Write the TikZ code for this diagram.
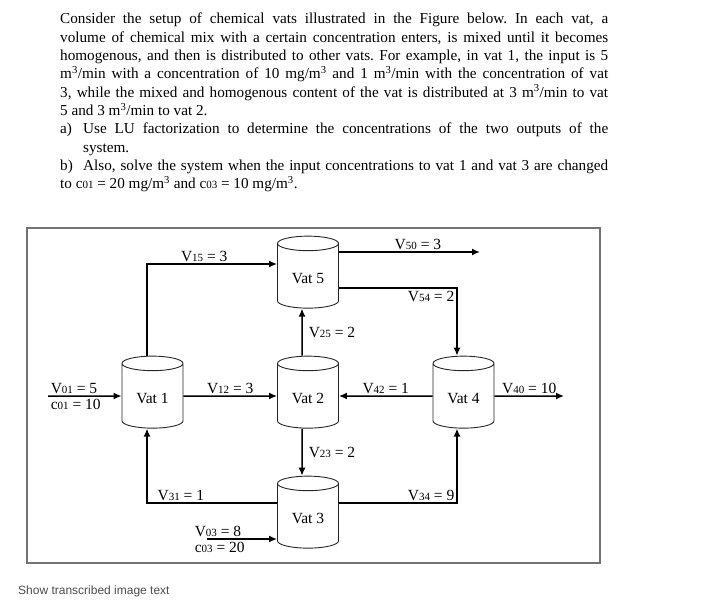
\documentclass[tikz,border=0pt]{standalone}
\usepackage{fontspec}
\setmainfont{Liberation Serif}
\newfontfamily\pagesans{Liberation Sans}
\usetikzlibrary{shapes.geometric,arrows.meta,calc}
\tikzstyle{vat} = [cylinder, shape border rotate=90, aspect=0.45, draw=black!85, line width=0.9pt, minimum width=61pt, minimum height=72pt, inner sep=0pt, text height=16pt, font=\fontsize{15.5}{16}\selectfont]
\tikzstyle{arrow} = [line width=1.5pt, ->, >={Latex[length=8pt,width=7pt]}]
\tikzstyle{lbl} = [font=\fontsize{15.5}{16}\selectfont, inner sep=2pt]
\newcommand{\flowlab}[3]{#1{\fontsize{11}{11}\selectfont #2} = #3}
\newcommand{\smallsub}[1]{{\fontsize{11}{11}\selectfont #1}}
\newcommand{\cube}{\textsuperscript{3}}

\begin{document}
\begin{tikzpicture}[x=1pt, y=-1pt, node distance=155.5pt]
    \useasboundingbox (0,0) rectangle (710,616);
    % question text
    \node (question) [anchor=north west, inner sep=0pt, text width=548pt, align=justify, font=\fontsize{15.2}{18.3}\selectfont] at (60,13) {%
      \frenchspacing\hyphenpenalty=10000
      Consider the setup of chemical vats illustrated in the Figure below. In each vat, a\linebreak
      volume of chemical mix with a certain concentration enters, is mixed until it becomes\linebreak
      homogenous, and then is distributed to other vats. For example, in vat 1, the input is 5\linebreak
      m\cube/min with a concentration of 10 mg/m\cube{} and 1 m\cube/min with the concentration of vat\linebreak
      3, while the mixed and homogenous content of the vat is distributed at 3 m\cube/min to vat\linebreak
      5 and 3 m\cube/min to vat 2.\par
      \hangindent=23pt\hangafter=1\noindent\makebox[23pt][l]{a)}Use LU factorization to determine the concentrations of the two outputs of the\linebreak
      system.\par
      \hangindent=23pt\hangafter=1\noindent\makebox[23pt][l]{b)}Also, solve the system when the input concentrations to vat 1 and vat 3 are changed\linebreak
      to c\smallsub{01} = 20 mg/m\cube{} and c\smallsub{03} = 10 mg/m\cube.};
    % frame
    \draw [black!55, line width=1.5pt] (27,228) rectangle (600,563);
    % vats
    \node (vat1) [vat] at (152.5,396) {Vat 1};
    \node (vat2) [vat, right of=vat1] {Vat 2};
    \node (vat4) [vat, right of=vat2] {Vat 4};
    \node (vat5) [vat, above of=vat2, yshift=-35.5pt] {Vat 5};
    \node (vat3) [vat, below of=vat2, yshift=35.5pt] {Vat 3};
    \coordinate (in1) at (48,396);
    \coordinate (in3) at (207,539);
    \coordinate (out5) at (480,252);
    \coordinate (out4) at (564,396);
    % flows
    \draw [arrow] (in1) -- (vat1)
        node[lbl, above right, pos=0]{\flowlab{V}{01}{5}}
        node[lbl, below right, pos=0]{\flowlab{c}{01}{10}};
    \draw [arrow] (vat1) -- (vat2) node[lbl, above, midway]{\flowlab{V}{12}{3}};
    \draw [arrow] ([xshift=-5.5pt]vat1.north) |- ([yshift=12pt]vat5.west) node[lbl, above, pos=0.72]{\flowlab{V}{15}{3}};
    \draw [arrow] ([xshift=-6pt]vat2.north) -- ([xshift=-6pt]vat5.south) node[lbl, right, midway, xshift=4pt]{\flowlab{V}{25}{2}};
    \draw [arrow] (vat5.east |- out5) -- (out5) node[lbl, above, pos=0.56]{\flowlab{V}{50}{3}};
    \draw [arrow] ([yshift=-12pt]vat5.east) -| ([xshift=-6.5pt]vat4.north) node[lbl, below left, pos=0.5]{\flowlab{V}{54}{2}};
    \draw [arrow] (vat4) -- (vat2) node[lbl, above, midway]{\flowlab{V}{42}{1}};
    \draw [arrow] (vat4) -- (out4) node[lbl, above, midway]{\flowlab{V}{40}{10}};
    \draw [arrow] ([xshift=-6pt]vat2.south) -- ([xshift=-6pt]vat3.north) node[lbl, right, midway, xshift=4pt]{\flowlab{V}{23}{2}};
    \draw [arrow] ([yshift=13pt]vat3.west) -| ([xshift=-5.5pt]vat1.south) node[lbl, above, pos=0.37]{\flowlab{V}{31}{1}};
    \draw [arrow] ([yshift=13pt]vat3.east) -| ([xshift=-6.5pt]vat4.south) node[lbl, above left, pos=0.5]{\flowlab{V}{34}{9}};
    \draw [arrow] (in3) -- (vat3.west |- in3)
        node[lbl, above right, pos=0, xshift=-15pt]{\flowlab{V}{03}{8}}
        node[lbl, below right, pos=0, xshift=-15pt]{\flowlab{c}{03}{20}};
    % footer
    \node (footer) [anchor=west, inner sep=0pt, text=black!70, font=\pagesans\fontsize{12}{14}\selectfont] at (18,591) {Show transcribed image text};
\end{tikzpicture}
\end{document}
